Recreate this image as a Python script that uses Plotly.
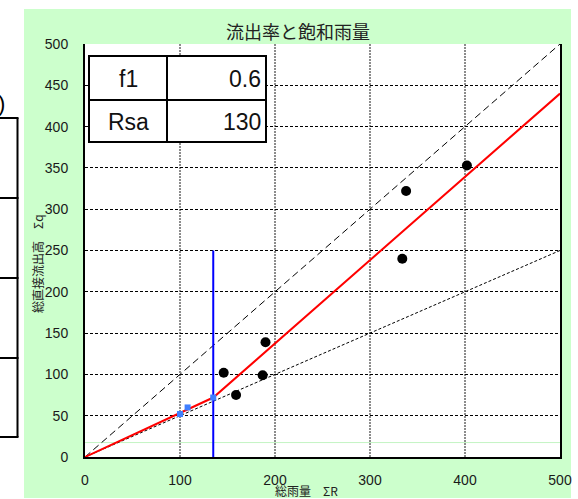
import plotly.graph_objects as go

# ---- data ----
rain_obs = [146, 159, 187, 190, 338, 334, 402]
runoff_obs = [102, 75, 99, 139, 322, 240, 353]
calc_x = [100, 108, 135]
calc_y = [52, 60, 72]
model_x = [0, 135, 500]
model_y = [0, 72, 440]
line11_x = [0, 500]
line11_y = [0, 500]
half_x = [0, 500]
half_y = [0, 250]
rsa_x = [135, 135]
rsa_y = [0, 250]
base_x = [0, 500]
base_y = [17.5, 17.5]
table_labels = ["f1", "Rsa"]
table_values = ["0.6", "130"]
x_ticks = [0, 100, 200, 300, 400, 500]
y_ticks = [0, 50, 100, 150, 200, 250, 300, 350, 400, 450, 500]

W, H = 578, 499
L, R, T, B = 85, 18, 44, 42
pw, ph = W - L - R, H - T - B


def px(x):
    return (x - L) / pw


def py(y):
    return (H - B - y) / ph


fig = go.Figure()
fig.add_trace(go.Scatter(x=base_x, y=base_y, mode="lines",
                         line=dict(color="#c4f4c4", width=1), hoverinfo="skip"))
fig.add_trace(go.Scatter(x=line11_x, y=line11_y, mode="lines",
                         line=dict(color="black", width=1, dash="7px,4px")))
fig.add_trace(go.Scatter(x=half_x, y=half_y, mode="lines",
                         line=dict(color="black", width=1, dash="3px,2px")))
fig.add_trace(go.Scatter(x=rsa_x, y=rsa_y, mode="lines",
                         line=dict(color="#0000ff", width=2)))
fig.add_trace(go.Scatter(x=model_x, y=model_y, mode="lines",
                         line=dict(color="#ff0000", width=2)))
fig.add_trace(go.Scatter(x=calc_x, y=calc_y, mode="markers",
                         marker=dict(color="#3f7fff", size=6, symbol="square")))
fig.add_trace(go.Scatter(x=rain_obs, y=runoff_obs, mode="markers",
                         marker=dict(color="black", size=10)))

shapes = []
# green chart area
shapes.append(dict(type="rect", xref="paper", yref="paper", layer="below",
                   x0=px(24), x1=px(571), y0=py(498), y1=py(9),
                   fillcolor="#ccffcc", line=dict(width=0)))
# white plot area
shapes.append(dict(type="rect", xref="paper", yref="paper", layer="below",
                   x0=0, x1=1, y0=0, y1=1,
                   fillcolor="white", line=dict(width=0)))
# left partial table (neighbour object)
for yy in [118, 198, 278, 358, 437]:
    shapes.append(dict(type="line", xref="paper", yref="paper",
                       x0=px(0), x1=px(18.5), y0=py(yy), y1=py(yy),
                       line=dict(color="black", width=2)))
shapes.append(dict(type="line", xref="paper", yref="paper",
                   x0=px(17.5), x1=px(17.5), y0=py(118), y1=py(437),
                   line=dict(color="black", width=2)))
# f1/Rsa table
tx0, tx1, tdx = px(89), px(266), px(167)
ty0, ty1, tmid = py(142), py(56), py(100)
shapes.append(dict(type="rect", xref="paper", yref="paper",
                   x0=tx0, x1=tx1, y0=ty0, y1=ty1,
                   fillcolor="white", line=dict(color="black", width=2)))
shapes.append(dict(type="line", xref="paper", yref="paper",
                   x0=tx0, x1=tx1, y0=tmid, y1=tmid,
                   line=dict(color="black", width=2)))
shapes.append(dict(type="line", xref="paper", yref="paper",
                   x0=tdx, x1=tdx, y0=ty0, y1=ty1,
                   line=dict(color="black", width=2)))

ann = []
tfont = dict(family="Liberation Sans, Arial", size=23, color="#111")
for lab, val, yc in zip(table_labels, table_values, [79, 122]):
    ann.append(dict(xref="paper", yref="paper", x=px(128), y=py(yc),
                    text=lab, showarrow=False, xanchor="center", yanchor="middle",
                    font=tfont))
    ann.append(dict(xref="paper", yref="paper", x=px(263), y=py(yc),
                    text=val, showarrow=False, xanchor="right", yanchor="middle",
                    font=tfont))
cjk = "Noto Sans CJK JP"
ann.append(dict(xref="paper", yref="paper", x=px(298), y=py(31),
                text="流出率と飽和雨量", showarrow=False,
                xanchor="center", yanchor="middle",
                font=dict(family=cjk, size=18, color="#222")))
ann.append(dict(xref="paper", yref="paper", x=px(37), y=py(264),
                text="総直接流出高　Σq", showarrow=False, textangle=-90,
                xanchor="center", yanchor="middle",
                font=dict(family=cjk, size=12, color="#222")))
ann.append(dict(xref="paper", yref="paper", x=px(306), y=py(490.5),
                text="総雨量　ΣR", showarrow=False,
                xanchor="center", yanchor="middle",
                font=dict(family=cjk, size=12, color="#222")))
ann.append(dict(xref="paper", yref="paper", x=px(7), y=py(104),
                text=")", showarrow=False, xanchor="right", yanchor="middle",
                font=dict(family="Liberation Sans", size=22, color="black")))

fig.update_layout(
    width=W, height=H,
    margin=dict(l=L, r=R, t=T, b=B, pad=0, autoexpand=False),
    paper_bgcolor="white",
    plot_bgcolor="rgba(0,0,0,0)",
    showlegend=False,
    shapes=shapes,
    annotations=ann,
    font=dict(family="Liberation Sans, Arial", size=14, color="#1a1a1a"),
)
fig.update_xaxes(range=[0, 500], tickvals=x_ticks, showgrid=True,
                 gridcolor="#8c8c8c", gridwidth=2, griddash="2px,1px",
                 showline=True, linecolor="black", linewidth=2,
                 zeroline=False, ticks="", ticklabelstandoff=9,
                 automargin=False)
fig.update_yaxes(range=[0, 500], tickvals=y_ticks, showgrid=True,
                 gridcolor="black", gridwidth=1, griddash="3px,2px",
                 showline=True, linecolor="black", linewidth=2, mirror=True,
                 zeroline=False, ticks="", ticklabelstandoff=12,
                 automargin=False)

fig.write_html("out.html", config={"displayModeBar": False},
               post_script="document.body.style.margin='0';document.body.style.overflow='hidden';")
